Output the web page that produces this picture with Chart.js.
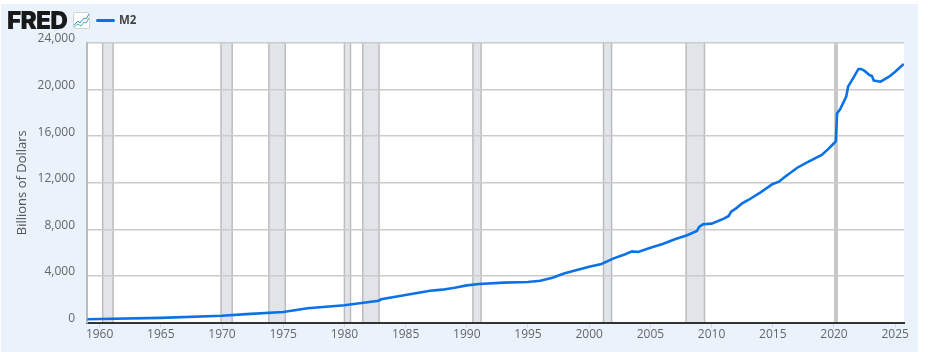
<!DOCTYPE html>
<html>
<head>
<meta charset="utf-8">
<title>M2</title>
<script src="https://cdn.jsdelivr.net/npm/chart.js@4"></script>
<style>
    html, body { margin: 0; padding: 0; background: #fff; overflow: hidden; }
    #panel { position: absolute; left: 1px; top: 4px; width: 917px; height: 348px; background: #eaf2fb; }
    #chart { position: absolute; left: 0; top: 0; }
    #logo { position: absolute; left: 7px; top: 5px; font: 900 24.5px/30px Inter, sans-serif; letter-spacing: -0.8px; color: #191919; }
    #icon { position: absolute; left: 73px; top: 12px; }
    #legend-line { position: absolute; left: 96px; top: 19px; width: 19px; height: 3px; background: #0a72e6; border-radius: 2px; }
    #legend-text { position: absolute; left: 119px; top: 12px; font: 700 11.5px/16px "Open Sans", sans-serif; color: #444; }
</style>
</head>
<body>
<div id="panel"></div>
<canvas id="chart" width="948" height="352"></canvas>
<div id="logo">FRED</div>
<svg id="icon" width="17" height="17" viewBox="0 0 17 17">
    <rect x="0.5" y="0.5" width="16" height="16" rx="1.5" fill="#fff" stroke="#d5d5d5"/>
    <polyline points="1,13 5,9 7,11 11,6 13,7 16,2" fill="none" stroke="#3b8fe0" stroke-width="1"/>
    <polyline points="1,15 5,12 8,14 11,10 13,11 16,6" fill="none" stroke="#45b5a0" stroke-width="1"/>
</svg>
<div id="legend-line"></div>
<div id="legend-text">M2</div>

<script>
/* M2 series */
const years = [1959, 1960, 1965, 1970, 1972, 1975, 1977, 1980, 1982.8, 1983, 1985, 1987, 1988, 1989, 1990,
    1991, 1993, 1995, 1996, 1997, 1998, 2000, 2001, 2002, 2003, 2003.5, 2004, 2005, 2006, 2007, 2008,
    2008.8, 2009, 2009.3, 2010, 2011, 2011.4, 2011.6, 2012, 2012.5, 2013, 2014, 2015, 2015.5, 2016, 2017,
    2018, 2019, 2019.5, 2020, 2020.15, 2020.25, 2020.5, 2021, 2021.15, 2021.4, 2022, 2022.2, 2022.5,
    2022.9, 2023.1, 2023.25, 2023.8, 2024.5, 2025, 2025.7];
const m2Values = [280, 300, 400, 585, 720, 900, 1220, 1480, 1870, 1990, 2360, 2730, 2820, 2990, 3190,
    3310, 3420, 3480, 3590, 3850, 4220, 4790, 5025, 5510, 5880, 6110, 6060, 6425, 6740, 7145, 7490,
    7860, 8230, 8430, 8490, 8920, 9150, 9520, 9800, 10230, 10520, 11180, 11890, 12090, 12520, 13290,
    13860, 14380, 14870, 15390, 15560, 17960, 18300, 19390, 20250, 20680, 21770, 21770, 21600,
    21250, 21170, 20770, 20680, 21110, 21540, 22200];

const yTicks = [0, 4000, 8000, 12000, 16000, 20000, 24000];
const xTicks = [1960, 1965, 1970, 1975, 1980, 1985, 1990, 1995, 2000, 2005, 2010, 2015, 2020, 2025];

const recessionStart = [1960.25, 1969.92, 1973.83, 1980, 1981.5, 1990.5, 2001.17, 2007.92, 2020.08];
const recessionEnd = [1961.1, 1970.83, 1975.17, 1980.5, 1982.83, 1991.17, 2001.83, 2009.42, 2020.25];

/* white plot area and grey recession bands, under the grid */
const bandsPlugin = {
    id: 'bands',
    beforeDraw(chart) {
        const c = chart.ctx;
        const area = chart.chartArea;
        const x = chart.scales.x;

        c.save();
        c.fillStyle = '#fff';
        c.fillRect(area.left, area.top, area.width, area.height);

        recessionStart.forEach((start, i) => {
            const x1 = x.getPixelForValue(start);
            const x2 = x.getPixelForValue(recessionEnd[i]);
            c.fillStyle = '#e1e5ea';
            c.fillRect(x1, area.top, x2 - x1, area.height);
            c.strokeStyle = '#bcbcbc';
            c.lineWidth = 1.5;
            c.beginPath();
            c.moveTo(x1, area.top);
            c.lineTo(x1, area.bottom);
            c.moveTo(x2, area.top);
            c.lineTo(x2, area.bottom);
            c.stroke();
        });
        c.restore();
    }
};

const ctx = document.getElementById('chart');

new Chart(ctx, {
    type: 'line',
    data: {
        datasets: [{
            label: 'M2',
            data: years.map((year, i) => ({ x: year, y: m2Values[i] })),
            borderColor: '#0a72e6',
            borderWidth: 2.6,
            pointRadius: 0,
            tension: 0
        }]
    },
    options: {
        responsive: false,
        animation: false,
        layout: { padding: { left: 0, right: 44, top: 43, bottom: 0 } },
        plugins: { legend: { display: false }, tooltip: { enabled: false } },
        scales: {
            x: {
                type: 'linear',
                min: 1958.97,
                max: 2025.72,
                afterBuildTicks: scale => { scale.ticks = xTicks.map(v => ({ value: v })); },
                afterFit: scale => { scale.height = 29.5; },
                grid: { color: 'rgba(0,0,0,0)', tickColor: '#ccd6eb', tickLength: 5, lineWidth: 1 },
                border: { color: '#333', width: 2 },
                ticks: {
                    autoSkip: false,
                    maxRotation: 0,
                    padding: 0,
                    color: '#666',
                    font: { family: 'Open Sans', size: 12 },
                    callback: v => String(v)
                }
            },
            y: {
                min: 0,
                max: 24000,
                afterBuildTicks: scale => { scale.ticks = yTicks.map(v => ({ value: v })); },
                afterFit: scale => { scale.width = 87; },
                grid: { color: '#cbcbcb', lineWidth: 1.5, drawTicks: false },
                border: { color: '#bcbcbc', width: 2 },
                title: {
                    display: true,
                    text: 'Billions of Dollars',
                    color: '#555',
                    font: { family: 'Open Sans', size: 13 },
                    padding: { top: 14, bottom: 0 }
                },
                ticks: {
                    padding: 12,
                    color: '#666',
                    font: { family: 'Open Sans', size: 12, lineHeight: '8px' },
                    /* empty second line lifts the label above its grid line */
                    callback: v => [v.toLocaleString('en-US'), '']
                }
            }
        }
    },
    plugins: [bandsPlugin]
});
</script>
</body>
</html>
